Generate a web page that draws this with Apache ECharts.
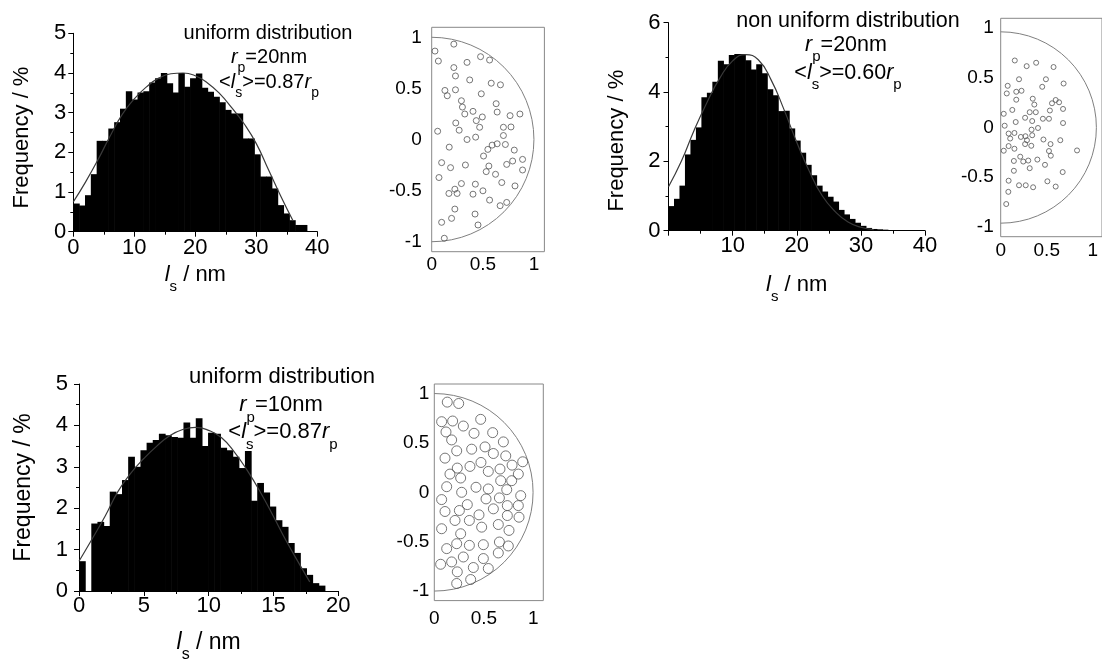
<!DOCTYPE html>
<html>
<head>
<meta charset="utf-8">
<script src="https://cdn.jsdelivr.net/npm/echarts@6/dist/echarts.min.js"></script>
<style>
html, body { margin: 0; padding: 0; background: #fff; }
#chart { width: 1102px; height: 664px; }
</style>
</head>
<body>
<div id="chart"></div>
<script>
// Distance-to-surface histograms (l_s, % of particles) with fitted curves,
// next to the particle positions in a pore cross-section (units of r_p).

// Panel A: uniform distribution, r_p = 20 nm
const binWidthA = 0.957; // nm
const freqA = [0.71, 0.66, 0.92, 1.45, 2.29, 2.29, 2.6, 2.76, 3.1, 3.54,
  3.33, 3.51, 3.54, 3.76, 3.87, 4.0, 3.74, 3.51, 4.0, 3.65,
  3.87, 3.99, 3.63, 3.53, 3.4, 3.26, 3.07, 2.98, 2.98, 2.35,
  2.35, 1.95, 1.39, 1.39, 1.09, 0.67, 0.46, 0.29, 0.17, 0.17];
const fitA = [[0, 0.75], [2, 1.25], [4, 1.8], [6, 2.4], [8, 2.95], [10, 3.35],
  [12, 3.65], [14, 3.87], [16, 3.98], [18, 4.0], [20, 3.93], [22, 3.75],
  [24, 3.48], [26, 3.12], [28, 2.72], [30, 2.22], [32, 1.56], [34, 0.9], [36, 0.28]];

// Panel B: non uniform distribution, r_p = 20 nm
const binWidthB = 0.855; // nm
const freqB = [0.71, 0.92, 1.3, 2.2, 2.62, 2.98, 3.85, 3.98, 4.3, 4.9,
  4.8, 5.07, 5.1, 5.1, 4.92, 4.65, 4.8, 4.54, 4.08, 3.91,
  3.45, 3.46, 2.95, 2.6, 2.25, 1.9, 1.6, 1.3, 1.13, 0.98,
  0.84, 0.6, 0.47, 0.34, 0.23, 0.14, 0.08, 0.05, 0.04, 0.03];
const fitB = [[0, 1.27], [2, 2.0], [4, 2.9], [6, 3.7], [8, 4.4], [10, 4.9],
  [12, 5.08], [14, 4.93], [16, 4.35], [18, 3.5], [20, 2.55], [22, 1.7],
  [24, 1.0], [26, 0.55], [28, 0.25], [30, 0.1], [32, 0.03]];

// Panel C: uniform distribution, r_p = 10 nm
const binWidthC = 0.474; // nm
const freqC = [0.72, 0, 1.63, 1.67, 1.57, 2.4, 2.34, 2.68, 3.24, 3.0,
  3.4, 3.58, 3.65, 3.8, 3.76, 3.72, 3.7, 4.07, 3.7, 4.17,
  3.5, 3.82, 3.8, 3.46, 3.4, 3.24, 2.97, 3.38, 2.18, 2.61,
  2.38, 2.04, 1.71, 1.55, 1.16, 0.92, 0.55, 0.39, 0.19, 0.13];
const fitC = [[0, 0.72], [1, 1.25], [2, 1.8], [3, 2.4], [4, 2.85], [5, 3.2],
  [6, 3.5], [7, 3.75], [8, 3.9], [9, 3.95], [10, 3.88], [11, 3.7], [12, 3.35],
  [13, 2.9], [14, 2.38], [15, 1.8], [16, 1.2], [17, 0.65], [17.8, 0.22]];

// Particle centres in the half section (x, y in units of r_p)
const pointsA = [[0.216,0.935],[0.032,0.867],[0.065,0.769],[0.477,0.812],[0.565,0.779],[0.345,0.756],
  [0.216,0.705],[0.232,0.623],[0.371,0.584],[0.581,0.552],[0.671,0.536],[0.129,0.481],[0.152,0.429],
  [0.232,0.487],[0.484,0.448],[0.290,0.380],[0.300,0.318],[0.323,0.250],[0.403,0.276],[0.629,0.351],
  [0.639,0.269],[0.435,0.185],[0.494,0.221],[0.468,0.120],[0.235,0.162],[0.268,0.091],[0.765,0.234],
  [0.861,0.250],[0.700,0.120],[0.774,0.123],[0.058,0.081],[0.345,0.0],[0.429,0.023],[0.700,0.039],
  [0.590,-0.055],[0.639,-0.042],[0.719,-0.049],[0.171,-0.075],[0.548,-0.097],[0.506,-0.162],
  [0.806,-0.104],[0.887,-0.195],[0.790,-0.211],[0.732,-0.244],[0.097,-0.227],[0.184,-0.276],
  [0.329,-0.250],[0.558,-0.260],[0.532,-0.315],[0.623,-0.341],[0.887,-0.299],[0.071,-0.373],
  [0.684,-0.422],[0.290,-0.432],[0.426,-0.438],[0.226,-0.487],[0.168,-0.529],[0.248,-0.529],
  [0.403,-0.536],[0.500,-0.503],[0.565,-0.594],[0.668,-0.649],[0.732,-0.617],[0.813,-0.455],
  [0.226,-0.682],[0.194,-0.773],[0.423,-0.731],[0.097,-0.812],[0.452,-0.838],[0.123,-0.968]];
const pointsB = [[0.153,0.675],[0.282,0.618],[0.385,0.652],[0.574,0.609],[0.076,0.420],[0.199,0.486],
  [0.066,0.343],[0.169,0.360],[0.226,0.370],[0.169,0.280],[0.491,0.486],[0.451,0.410],[0.683,0.443],
  [0.348,0.290],[0.365,0.231],[0.557,0.244],[0.597,0.277],[0.634,0.254],[0.677,0.187],[0.126,0.177],
  [0.033,0.138],[0.315,0.154],[0.381,0.154],[0.534,0.171],[0.265,0.098],[0.458,0.088],[0.524,0.088],
  [0.163,0.055],[0.342,0.065],[0.043,0.018],[0.677,0.045],[0.086,-0.061],[0.149,-0.055],[0.103,-0.111],
  [0.219,-0.095],[0.269,-0.088],[0.342,-0.078],[0.285,-0.128],[0.405,-0.005],[0.335,-0.022],
  [0.086,-0.187],[0.149,-0.214],[0.033,-0.234],[0.265,-0.167],[0.332,-0.184],[0.464,-0.121],
  [0.541,-0.167],[0.647,-0.128],[0.829,-0.231],[0.524,-0.237],[0.544,-0.284],[0.212,-0.294],
  [0.143,-0.337],[0.245,-0.343],[0.299,-0.333],[0.315,-0.410],[0.398,-0.323],[0.481,-0.376],
  [0.673,-0.449],[0.143,-0.436],[0.086,-0.536],[0.199,-0.582],[0.272,-0.582],[0.352,-0.602],
  [0.507,-0.542],[0.597,-0.595],[0.083,-0.648],[0.060,-0.771]];
const pointsC = [[0.131,0.916],[0.246,0.902],[0.074,0.717],[0.185,0.724],[0.118,0.613],[0.293,0.673],
  [0.401,0.599],[0.468,0.741],[0.175,0.532],[0.589,0.606],[0.697,0.512],[0.226,0.421],[0.377,0.438],
  [0.512,0.461],[0.596,0.394],[0.721,0.370],[0.108,0.347],[0.232,0.246],[0.360,0.263],[0.471,0.303],
  [0.892,0.310],[0.785,0.276],[0.158,0.185],[0.266,0.145],[0.545,0.212],[0.663,0.236],[0.848,0.185],
  [0.670,0.118],[0.781,0.118],[0.125,0.057],[0.276,0.0],[0.421,0.051],[0.545,0.034],[0.731,0.027],
  [0.074,-0.074],[0.108,-0.195],[0.253,-0.185],[0.333,-0.125],[0.522,-0.067],[0.657,-0.057],
  [0.737,-0.135],[0.872,-0.034],[0.848,-0.135],[0.737,-0.236],[0.855,-0.253],[0.209,-0.286],
  [0.354,-0.286],[0.451,-0.229],[0.596,-0.168],[0.478,-0.354],[0.646,-0.327],[0.754,-0.387],
  [0.074,-0.370],[0.266,-0.421],[0.226,-0.522],[0.354,-0.539],[0.495,-0.532],[0.657,-0.505],
  [0.747,-0.545],[0.125,-0.572],[0.646,-0.616],[0.293,-0.657],[0.495,-0.673],[0.064,-0.731],
  [0.175,-0.707],[0.232,-0.808],[0.394,-0.764],[0.545,-0.774],[0.367,-0.886],[0.226,-0.926]];

// Pore wall: centre (0, 0), radius 1
const poreOutline = [[0, 0, 1]];

// Tick labels of the section plots
const sectionXTicks = [0, 0.5, 1];
const sectionYTicks = [-1, -0.5, 0, 0.5, 1];

const FONT = '"Liberation Sans", Arial, sans-serif';

function richStyles(size) {
  const lh = Math.round(size * 1.8);
  const sub = Math.round(size * 0.68);
  return {
    n: { fontFamily: FONT, fontSize: size, color: '#000', lineHeight: lh, verticalAlign: 'middle' },
    i: { fontFamily: FONT, fontSize: size, fontStyle: 'italic', color: '#000', lineHeight: lh, verticalAlign: 'middle' },
    sub: { fontFamily: FONT, fontSize: sub, color: '#000', lineHeight: sub, verticalAlign: 'bottom' }
  };
}

function toBins(freq, w) {
  return freq.map((f, i) => [i * w, (i + 1) * w, f]);
}

function renderBar(params, api) {
  const top = api.coord([api.value(0), api.value(2)]);
  const base = api.coord([api.value(1), 0]);
  return {
    type: 'rect',
    shape: { x: top[0], y: top[1], width: base[0] - top[0] + 0.6, height: base[1] - top[1] },
    style: { fill: '#000' }
  };
}

function renderArc(params, api) {
  const c = api.coord([api.value(0), api.value(1)]);
  const s = api.size([api.value(2), api.value(2)]);
  return {
    type: 'arc',
    shape: { cx: c[0], cy: c[1], r: (s[0] + s[1]) / 2, startAngle: -Math.PI / 2, endAngle: Math.PI / 2, clockwise: true },
    style: { stroke: '#808080', fill: null, lineWidth: 1 }
  };
}

const grids = [
  { left: 73.3, top: 33.3, width: 244, height: 198.4 },
  { left: 431.7, top: 27.3, width: 112.7, height: 224.4, show: true, borderColor: '#888', borderWidth: 1 },
  { left: 668.5, top: 22.7, width: 256.5, height: 208 },
  { left: 1000.7, top: 18.3, width: 109.2, height: 218.4, show: true, borderColor: '#888', borderWidth: 1 },
  { left: 79, top: 384, width: 259.3, height: 211.7 },
  { left: 434.3, top: 384, width: 109, height: 216.6, show: true, borderColor: '#888', borderWidth: 1 }
];

function histX(gi, max, interval, gap, labelMargin, nameSize, hideMin) {
  return {
    type: 'value', gridIndex: gi, min: 0, max: max, interval: interval,
    axisLine: { lineStyle: { color: '#000', width: 1 } },
    axisTick: { length: 5, lineStyle: { color: '#000' } },
    minorTick: { show: true, splitNumber: 2, length: 3, lineStyle: { color: '#000' } },
    splitLine: { show: false },
    axisLabel: { fontFamily: FONT, fontSize: 22, color: '#000', margin: labelMargin, showMinLabel: !hideMin },
    name: '{i|l}{sub|s}{n| / nm}', nameLocation: 'middle', nameGap: gap,
    nameTextStyle: { rich: richStyles(nameSize) }
  };
}
function histY(gi, max, interval, gap, labelMargin, nameSize, shiftDown) {
  return {
    type: 'value', gridIndex: gi, min: 0, max: max, interval: interval,
    axisLine: { lineStyle: { color: '#000', width: 1 } },
    axisTick: { length: 5, lineStyle: { color: '#000' } },
    minorTick: { show: true, splitNumber: 2, length: 3, lineStyle: { color: '#000' } },
    splitLine: { show: false },
    axisLabel: { fontFamily: FONT, fontSize: 22, color: '#000', margin: labelMargin },
    name: 'Frequency / %', nameLocation: 'middle', nameRotate: 90, nameGap: gap,
    nameTextStyle: { fontFamily: FONT, fontSize: nameSize, color: '#000', lineHeight: nameSize,
      padding: [0, shiftDown * 2, 0, 0] }
  };
}
function sectionX(gi, margin, size) {
  return {
    type: 'value', gridIndex: gi, min: 0, max: 1.1,
    axisLine: { show: false, onZero: false },
    axisTick: { show: false }, splitLine: { show: false },
    axisLabel: { customValues: sectionXTicks, fontFamily: FONT, fontSize: size, color: '#000', margin: margin }
  };
}
function sectionY(gi, margin, size) {
  return {
    type: 'value', gridIndex: gi, min: -1.1, max: 1.1,
    axisLine: { show: false, onZero: false },
    axisTick: { show: false }, splitLine: { show: false },
    axisLabel: { customValues: sectionYTicks, fontFamily: FONT, fontSize: size, color: '#000', margin: margin }
  };
}

function histSeries(idx, freq, w, fit) {
  return [
    { type: 'custom', xAxisIndex: idx, yAxisIndex: idx, data: toBins(freq, w),
      encode: { x: [0, 1], y: 2 }, renderItem: renderBar, silent: true, z: 2 },
    { type: 'line', xAxisIndex: idx, yAxisIndex: idx, data: fit, smooth: true,
      symbol: 'none', lineStyle: { color: '#3a3a3a', width: 1.2 }, silent: true, z: 3 }
  ];
}
function sectionSeries(idx, pts, size) {
  return [
    { type: 'custom', xAxisIndex: idx, yAxisIndex: idx, data: poreOutline,
      encode: { x: 0, y: 1 }, renderItem: renderArc, clip: false, silent: true, z: 2 },
    { type: 'scatter', xAxisIndex: idx, yAxisIndex: idx, data: pts, symbol: 'circle',
      symbolSize: size, itemStyle: { color: 'rgba(0,0,0,0)', borderColor: '#555', borderWidth: 1 },
      silent: true, z: 3 }
  ];
}

function label(x, y, text, size, rich) {
  const style = { text: text, x: 0, y: 0, align: 'center', verticalAlign: 'middle',
    textAlign: 'center', textVerticalAlign: 'middle', fill: '#000',
    font: size + 'px ' + FONT };
  if (rich) style.rich = richStyles(size);
  return { type: 'text', x: x, y: y, style: style, silent: true };
}

const option = {
  animation: false,
  backgroundColor: '#fff',
  grid: grids,
  xAxis: [
    histX(0, 40, 10, 23, 5, 22, false),
    sectionX(1, 4, 19),
    histX(2, 40, 10, 34, 4, 22, true),
    sectionX(3, 5, 19),
    histX(4, 20, 5, 31, 4, 23, false),
    sectionX(5, 9, 19)
  ],
  yAxis: [
    histY(0, 5, 1, 40, 7, 22, 5),
    sectionY(1, 10, 19),
    histY(2, 6, 2, 41, 8, 22, 14),
    sectionY(3, 7, 19),
    histY(4, 5, 1, 44, 11, 23, 0),
    sectionY(5, 5, 19)
  ],
  series: [].concat(
    histSeries(0, freqA, binWidthA, fitA),
    sectionSeries(1, pointsA, 6),
    histSeries(2, freqB, binWidthB, fitB),
    sectionSeries(3, pointsB, 5),
    histSeries(4, freqC, binWidthC, fitC),
    sectionSeries(5, pointsC, 10)
  ),
  graphic: [
    label(268, 33, 'uniform distribution', 20, false),
    label(269, 57, '{i|r}{sub|p}{n|=20nm}', 20, true),
    label(269, 82, '{n|<}{i|l}{sub|s}{n|>=0.87}{i|r}{sub|p}', 20, true),
    label(848, 21, 'non uniform distribution', 21.5, false),
    label(846, 45, '{i|r}{sub|p}{n|=20nm}', 21.5, true),
    label(848, 73, '{n|<}{i|l}{sub|s}{n|>=0.60}{i|r}{sub|p}', 21.5, true),
    label(282, 377, 'uniform distribution', 22, false),
    label(281, 405, '{i|r}{sub|p}{n|=10nm}', 22, true),
    label(283, 432, '{n|<}{i|l}{sub|s}{n|>=0.87}{i|r}{sub|p}', 22, true)
  ]
};

const chart = echarts.init(document.getElementById('chart'), null, { renderer: 'canvas' });
chart.setOption(option);
</script>
</body>
</html>
